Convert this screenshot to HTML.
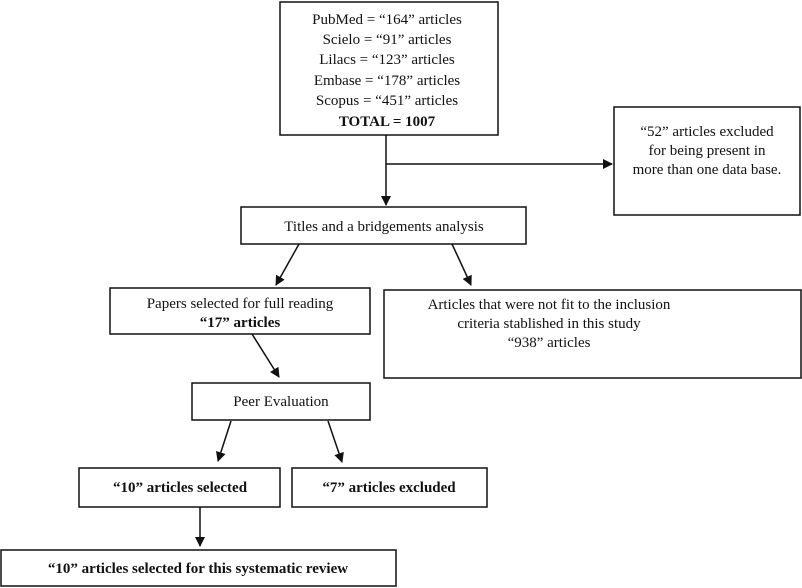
<!DOCTYPE html>
<html><head><meta charset="utf-8"><style>
html,body{margin:0;padding:0;background:#fff;width:802px;height:588px;overflow:hidden}
text{font-family:"Liberation Serif",serif;font-size:15px;fill:#111}
.b{font-weight:bold}
</style></head><body>
<svg width="802" height="588" viewBox="0 0 802 588" xmlns="http://www.w3.org/2000/svg">
<defs><marker id="a" markerWidth="10" markerHeight="10" refX="9" refY="5" orient="auto" markerUnits="userSpaceOnUse"><path d="M0,0 L10,5 L0,10 z" fill="#111"/></marker></defs>
<g fill="none" stroke="#111" stroke-width="1.5">
<rect x="280" y="2" width="218" height="133"/>
<rect x="614" y="107" width="186" height="108"/>
<rect x="241" y="207" width="285" height="37"/>
<rect x="110" y="288" width="260" height="46"/>
<rect x="384" y="290" width="417" height="88"/>
<rect x="192" y="383" width="178" height="37"/>
<rect x="79" y="468" width="201" height="39"/>
<rect x="292" y="468" width="195" height="39"/>
<rect x="1" y="550" width="395" height="36"/>
<line x1="386" y1="135" x2="386" y2="205" marker-end="url(#a)"/>
<line x1="386" y1="164" x2="612" y2="164" marker-end="url(#a)"/>
<line x1="299" y1="244" x2="276" y2="285" marker-end="url(#a)"/>
<line x1="452" y1="244" x2="471" y2="285" marker-end="url(#a)"/>
<line x1="252" y1="334" x2="279" y2="377" marker-end="url(#a)"/>
<line x1="231" y1="421" x2="218" y2="461" marker-end="url(#a)"/>
<line x1="328" y1="421" x2="342" y2="462" marker-end="url(#a)"/>
<line x1="200" y1="507" x2="200" y2="546" marker-end="url(#a)"/>
</g>
<g text-anchor="middle">
<text x="387" y="24">PubMed = “164” articles</text>
<text x="387" y="44">Scielo = “91” articles</text>
<text x="387" y="64">Lilacs = “123” articles</text>
<text x="387" y="85">Embase = “178” articles</text>
<text x="387" y="105">Scopus = “451” articles</text>
<text x="387" y="126" class="b">TOTAL = 1007</text>
<text x="707" y="136">“52” articles excluded</text>
<text x="707" y="155">for being present in</text>
<text x="707" y="174">more than one data base.</text>
<text x="384" y="231">Titles and a bridgements analysis</text>
<text x="240" y="308">Papers selected  for full reading</text>
<text x="240" y="327" class="b">“17” articles</text>
<text x="549" y="309">Articles that were not fit to the inclusion</text>
<text x="549" y="328">criteria stablished in this study</text>
<text x="549" y="347">“938” articles</text>
<text x="281" y="406">Peer Evaluation</text>
<text x="180" y="492" class="b">“10” articles selected</text>
<text x="389" y="492" class="b">“7” articles excluded</text>
<text x="198" y="573" class="b">“10” articles selected  for this systematic review</text>
</g>
</svg>
</body></html>
